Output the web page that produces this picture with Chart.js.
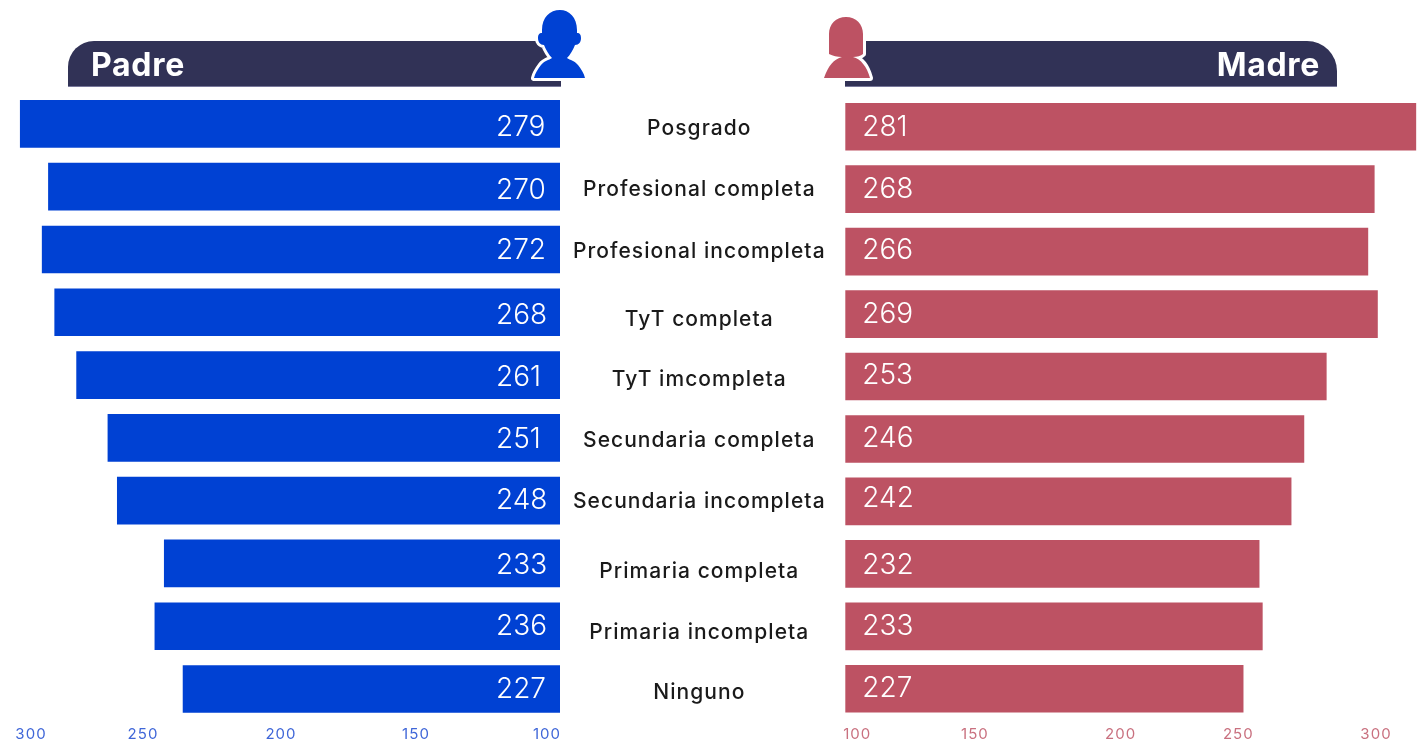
<!DOCTYPE html>
<html><head><meta charset="utf-8">
<script src="https://cdn.jsdelivr.net/npm/chart.js@4"></script>
<style>
html,body{margin:0;padding:0;background:#fff;width:1427px;height:744px;overflow:hidden;font-family:Inter,"Open Sans",sans-serif}
#left,#right,.banner,svg{position:absolute}
#left{left:0;top:0}
#right{left:838px;top:0}
.banner{top:41px;height:46px;background:#313256;color:#fff;font-weight:700;font-size:32px;letter-spacing:.7px;line-height:48px;border-bottom:1px solid #77779a}
#bl{left:68px;width:493px;border-top-left-radius:26px;box-sizing:border-box;padding-left:23px}
#br{left:845px;width:492px;border-top-right-radius:30px;box-sizing:border-box;padding-right:17px;text-align:right}
</style></head><body>
<canvas id="left" width="840" height="746"></canvas>
<canvas id="right" width="589" height="744"></canvas>
<div class="banner" id="bl">Padre</div>
<div class="banner" id="br">Madre</div>
<svg style="left:525px;top:0" width="70" height="90" viewBox="525 0 70 90">
<path d="M560 10c-10 0-18 7-18 20v3c-3 0-4 2-4 5 0 4 2 7 6 7 2 5 5 10 8 13-3 2-8 3-11 7-3 4-6 8-7 13h51c-1-5-4-9-7-13-3-4-8-5-11-7 3-3 6-8 8-13 4 0 6-3 6-7 0-3-1-5-4-5v-3c0-13-8-20-17-20z" fill="#0041d3" stroke="#fff" stroke-width="6" stroke-linejoin="round" paint-order="stroke"/>
</svg>
<svg style="left:815px;top:10px" width="65" height="80" viewBox="815 10 65 80">
<path d="M846 17c-10 0-17 7-17 17v20c4 2 8 3 13 3-8 2-14 9-18 21h46c-3-11-9-19-17-21 4 0 8-1 10-3V34c0-10-7-17-17-17z" fill="#bd5263" stroke="#fff" stroke-width="6" stroke-linejoin="round" paint-order="stroke"/>
</svg>
<script>
const categories = ["Posgrado","Profesional completa","Profesional incompleta","TyT completa","TyT imcompleta","Secundaria completa","Secundaria incompleta","Primaria completa","Primaria incompleta","Ninguno"];
const padre = [279,270,272,268,261,251,248,233,236,227];
const madre = [281,268,266,269,253,246,242,232,233,227];
const tickValues = [100,150,200,250,300];
const FONT = 'Inter, "Open Sans", sans-serif';

// Hand-placed label offsets of the reference (pixels), applied to the axis labels only.
const categoryNudge = [5,3,2,7,5,3,1,8,6,4];
const leftTickNudge = [0,-2,-8,-17,0];
const rightTickNudge = [0,-12,4,-8,0];
const leftValueNudge = [2,2,0,2,1,0,-2,1,-1,-1];
const rightValueNudge = [-1,-1,-3,-1,-2,-2,-4,0,-1,-2];

function nudgeTicks(scale, nudge){
  const base = Object.getPrototypeOf(scale).getPixelForTick;
  scale.getPixelForTick = function(i){ return base.call(this,i) + (nudge[i]||0); };
}

function build(id,data,color,tickColor,cfg){
  const canvas = document.getElementById(id);
  const spacing = {
    id:'spacing',
    beforeUpdate(chart){ chart.ctx.letterSpacing='1.05px'; },
    beforeDraw(chart){ chart.ctx.letterSpacing='1.05px'; }
  };
  const valueLabels = {
    id:'valueLabels',
    afterDatasetsDraw(chart){
      const c=chart.ctx, meta=chart.getDatasetMeta(0);
      const x0 = cfg.reverse ? chart.chartArea.right : chart.chartArea.left;
      c.save();
      c.letterSpacing='0px';
      c.fillStyle='#fff'; c.font='300 28px '+FONT; c.textBaseline='middle'; c.textAlign='left';
      meta.data.forEach((b,i)=>{ c.fillText(String(data[i]), x0+cfg.dx, b.y+1.5+cfg.valueNudge[i]); });
      c.restore();
    }
  };
  return new Chart(canvas,{
    type:'bar',
    data:{labels:categories,datasets:[{data,backgroundColor:color,barThickness:47,xAxisID:'x',yAxisID:'y',borderWidth:0}]},
    plugins:[spacing,valueLabels],
    options:{
      indexAxis:'y',responsive:false,animation:false,
      layout:{padding:cfg.padding},
      plugins:{legend:{display:false},tooltip:{enabled:false},title:{display:false}},
      scales:{
        x:{type:'linear',display:false,reverse:cfg.reverse,min:cfg.min,max:cfg.max},
        t:{type:'linear',axis:'x',position:'bottom',reverse:cfg.reverse,min:cfg.tmin,max:cfg.tmax,
           grid:{display:false,drawTicks:false},border:{display:false},
           afterBuildTicks(a){a.ticks=tickValues.map(v=>({value:v})); nudgeTicks(a,cfg.tickNudge);},
           afterFit(a){a.height=24;},
           ticks:{color:tickColor,autoSkip:false,maxRotation:0,padding:5,font:{family:FONT,size:15,weight:'400'}}},
        y:{type:'category',position:cfg.yPos,display:cfg.showY,grid:{display:false,drawTicks:false},border:{display:false},
           afterBuildTicks(a){nudgeTicks(a,categoryNudge);},
           afterFit(a){a.width=cfg.yW;},
           ticks:{color:'#1a1a1a',crossAlign:'center',padding:cfg.yPad,autoSkip:false,font:{family:FONT,size:21,weight:'500'}}}
      }
    }
  });
}
build('left',padre,'#0041d3','#3f66d8',{reverse:true,min:106.6,max:281,tmin:94.96,tmax:306.6,dx:-64,valueNudge:leftValueNudge,tickNudge:leftTickNudge,yPos:'right',showY:true,yW:280,yPad:13,
  padding:{left:14,right:0,top:92.5,bottom:0}});
build('right',madre,'#bd5263','#c9707f',{reverse:false,min:102.6,max:282.3,tmin:95.4,tmax:316.96,dx:17,valueNudge:rightValueNudge,tickNudge:rightTickNudge,yPos:'left',showY:false,yW:0,yPad:0,
  padding:{left:3,right:7,top:95.5,bottom:0}});
</script>
</body></html>
